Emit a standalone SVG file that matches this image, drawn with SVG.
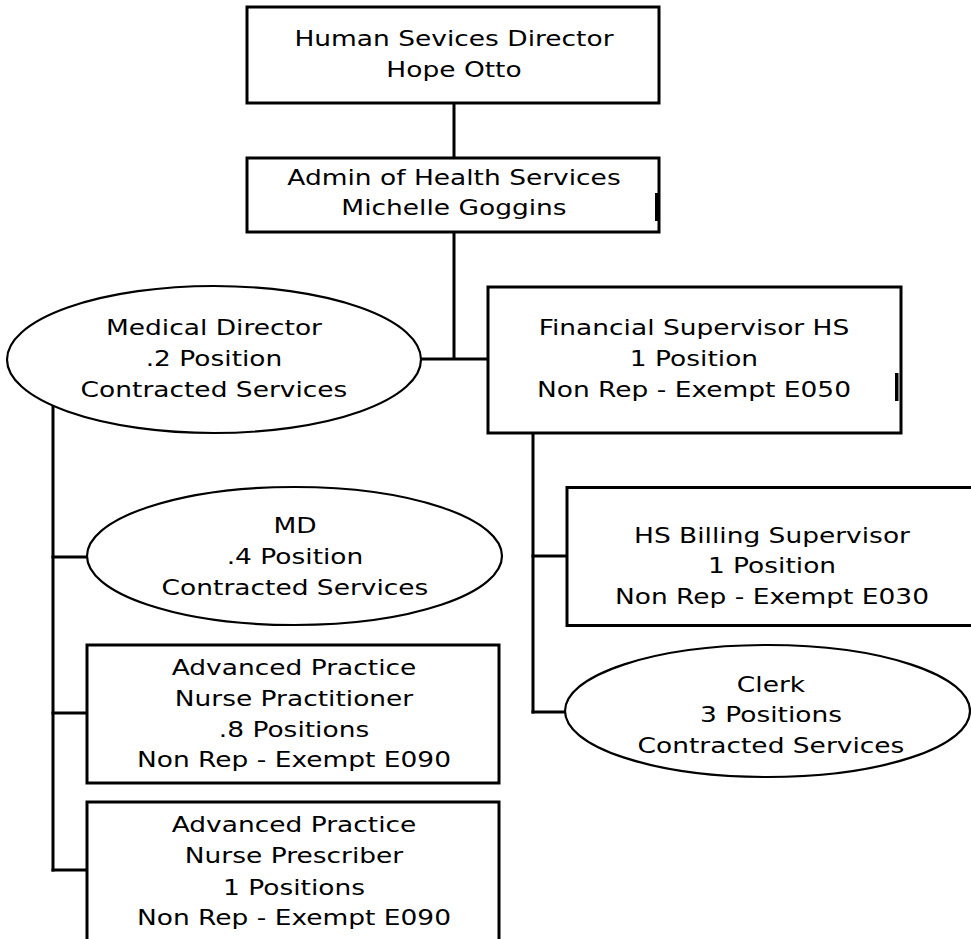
<svg xmlns="http://www.w3.org/2000/svg" width="971" height="939" viewBox="0 0 971 939">
<style>
.box{fill:#fff;stroke:#000;stroke-width:3}
.ell{fill:#fff;stroke:#000;stroke-width:2.2}
.ln{stroke:#000;stroke-width:3;fill:none}
text{font-family:"DejaVu Sans","Verdana",sans-serif;font-size:21px;text-anchor:middle;fill:#000}
</style>
<rect width="971" height="939" fill="#fff"/>
<g id="connectors">
<line class="ln" x1="454" y1="103" x2="454" y2="158"/>
<line class="ln" x1="454" y1="232" x2="454" y2="359"/>
<line class="ln" x1="420" y1="359" x2="488" y2="359"/>
<line class="ln" x1="53" y1="406" x2="53" y2="871.5"/>
<line class="ln" x1="51.5" y1="557" x2="88" y2="557"/>
<line class="ln" x1="51.5" y1="713" x2="88" y2="713"/>
<line class="ln" x1="51.5" y1="870" x2="88" y2="870"/>
<line class="ln" x1="533" y1="433" x2="533" y2="713.5"/>
<line class="ln" x1="531.5" y1="556" x2="567" y2="556"/>
<line class="ln" x1="531.5" y1="712" x2="566" y2="712"/>
</g>
<g id="director">
<rect class="box" x="247" y="7" width="412" height="96"/>
<g transform="scale(1.26 1)">
<text x="360.32" y="46">Human Sevices Director</text>
<text x="360.32" y="77">Hope Otto</text>
</g>
</g>
<g id="admin">
<rect class="box" x="247" y="158" width="412" height="74"/>
<rect x="655" y="193" width="3.5" height="28" fill="#000"/>
<g transform="scale(1.26 1)">
<text x="360.32" y="185">Admin of Health Services</text>
<text x="360.32" y="215">Michelle Goggins</text>
</g>
</g>
<g id="medical-director">
<ellipse class="ell" cx="214" cy="359.5" rx="207" ry="73.5"/>
<g transform="scale(1.26 1)">
<text x="169.84" y="335">Medical Director</text>
<text x="169.84" y="366">.2 Position</text>
<text x="169.84" y="397">Contracted Services</text>
</g>
</g>
<g id="financial">
<rect class="box" x="488" y="287" width="413" height="146"/>
<rect x="895" y="373" width="3.5" height="28" fill="#000"/>
<g transform="scale(1.26 1)">
<text x="550.79" y="335">Financial Supervisor HS</text>
<text x="550.79" y="366">1 Position</text>
<text x="550.79" y="397">Non Rep - Exempt E050</text>
</g>
</g>
<g id="md">
<ellipse class="ell" cx="294.5" cy="556" rx="207.5" ry="69"/>
<g transform="scale(1.26 1)">
<text x="234.13" y="533">MD</text>
<text x="234.13" y="564">.4 Position</text>
<text x="234.13" y="595">Contracted Services</text>
</g>
</g>
<g id="billing">
<rect class="box" x="567" y="487.5" width="412" height="138"/>
<g transform="scale(1.26 1)">
<text x="612.70" y="543">HS Billing Supervisor</text>
<text x="612.70" y="573">1 Position</text>
<text x="612.70" y="604">Non Rep - Exempt E030</text>
</g>
</g>
<g id="clerk">
<ellipse class="ell" cx="767.5" cy="711" rx="202.5" ry="66"/>
<g transform="scale(1.26 1)">
<text x="611.90" y="692">Clerk</text>
<text x="611.90" y="722">3 Positions</text>
<text x="611.90" y="753">Contracted Services</text>
</g>
</g>
<g id="nurse-practitioner">
<rect class="box" x="87" y="645" width="412" height="138"/>
<g transform="scale(1.26 1)">
<text x="233.33" y="675">Advanced Practice</text>
<text x="233.33" y="706">Nurse Practitioner</text>
<text x="233.33" y="737">.8 Positions</text>
<text x="233.33" y="767">Non Rep - Exempt E090</text>
</g>
</g>
<g id="nurse-prescriber">
<rect class="box" x="87" y="802" width="412" height="145"/>
<g transform="scale(1.26 1)">
<text x="233.33" y="832">Advanced Practice</text>
<text x="233.33" y="863">Nurse Prescriber</text>
<text x="233.33" y="895">1 Positions</text>
<text x="233.33" y="925">Non Rep - Exempt E090</text>
</g>
</g>
</svg>
